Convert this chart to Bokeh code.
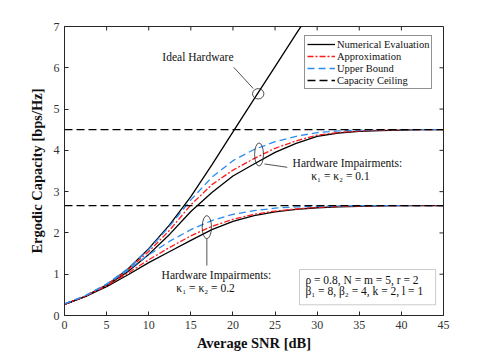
import math
from bokeh.plotting import figure
from bokeh.models import Legend, LegendItem, Label, BoxAnnotation, FixedTicker
from bokeh.embed import file_html
from bokeh.resources import INLINE

# ---------------- data ----------------
snr = [0, 2.5, 5, 7.5, 10, 12.5, 15, 17.5, 20, 22.5, 25, 27.5, 30, 32.5, 35, 37.5, 40, 42.5, 45]

ideal_snr = [0, 2.5, 5, 7.5, 10, 12.5, 15, 17.5, 20, 22.5, 25, 27.5, 30]
ideal_num = [0.27, 0.47, 0.74, 1.12, 1.62, 2.2, 2.88, 3.65, 4.45, 5.24, 6.03, 6.82, 7.6]

k01_num = [0.27, 0.46, 0.72, 1.06, 1.48, 1.97, 2.52, 2.98, 3.38, 3.67, 3.95, 4.17, 4.34, 4.42, 4.46, 4.48, 4.49, 4.5, 4.5]
k01_apx = [0.27, 0.47, 0.74, 1.1, 1.55, 2.07, 2.68, 3.17, 3.52, 3.8, 4.05, 4.23, 4.37, 4.43, 4.47, 4.49, 4.5, 4.5, 4.5]
k01_ub = [0.28, 0.48, 0.76, 1.13, 1.6, 2.17, 2.8, 3.35, 3.75, 4.02, 4.21, 4.34, 4.43, 4.47, 4.49, 4.5, 4.5, 4.5, 4.5]

k02_num = [0.27, 0.46, 0.7, 0.98, 1.28, 1.55, 1.82, 2.08, 2.28, 2.42, 2.51, 2.57, 2.61, 2.63, 2.645, 2.655, 2.66, 2.66, 2.66]
k02_apx = [0.27, 0.47, 0.72, 1.02, 1.35, 1.65, 1.93, 2.16, 2.33, 2.45, 2.53, 2.58, 2.62, 2.64, 2.65, 2.66, 2.66, 2.66, 2.66]
k02_ub = [0.28, 0.48, 0.76, 1.1, 1.47, 1.8, 2.08, 2.3, 2.45, 2.54, 2.6, 2.63, 2.645, 2.655, 2.66, 2.66, 2.66, 2.66, 2.66]

ceiling_k01 = 4.5
ceiling_k02 = 2.66

x_ticks = [0, 5, 10, 15, 20, 25, 30, 35, 40, 45]
y_ticks = [0, 1, 2, 3, 4, 5, 6, 7]

legend_labels = ["Numerical Evaluation", "Approximation", "Upper Bound", "Capacity Ceiling"]

# ---------------- styling ----------------
SERIF = "Liberation Serif"
AX = "#262626"
RED = "#ff1a1a"
BLUE = "#2b8cf0"
LW = 1.3

p = figure(width=491, height=354, x_range=(0, 45), y_range=(0, 7),
           output_backend="svg", toolbar_location=None,
           min_border_left=64, min_border_right=48, min_border_top=26, min_border_bottom=39)
p.grid.visible = False
p.outline_line_color = AX
p.outline_line_width = 1
p.background_fill_color = "white"
p.border_fill_color = "white"

for ax, ticks in ((p.xaxis[0], x_ticks), (p.yaxis[0], y_ticks)):
    ax.ticker = FixedTicker(ticks=ticks)
    ax.axis_line_color = AX
    ax.major_tick_line_color = AX
    ax.major_tick_in = 4
    ax.major_tick_out = 0
    ax.minor_tick_line_color = None
    ax.major_label_text_font = SERIF
    ax.major_label_text_color = "#333333"
    ax.major_label_text_font_size = "12px"
    ax.major_label_standoff = 5
    ax.axis_label_text_font = SERIF
    ax.axis_label_text_font_style = "bold"
    ax.axis_label_text_font_size = "14.5px"
    ax.axis_label_text_color = "#111111"
p.xaxis.axis_label = "Average SNR [dB]"
p.yaxis.axis_label = "Ergodic Capacity [bps/Hz]"
p.xaxis.axis_label_standoff = 3
p.yaxis.axis_label_standoff = 6

# MATLAB-style inward ticks on the top and right edges of the box
p.ray(x=x_ticks, y=[y_ticks[-1]] * len(x_ticks), length=4, length_units="screen",
      angle=-math.pi / 2, line_color=AX, line_width=1)
p.ray(x=[x_ticks[-1]] * len(y_ticks), y=y_ticks, length=4, length_units="screen",
      angle=math.pi, line_color=AX, line_width=1)

# ---------------- curves ----------------
ceil_x = [snr[0], snr[-1]]
r_ideal = p.line(ideal_snr, ideal_num, line_color="black", line_width=LW)

r_num1 = p.line(snr, k01_num, line_color="black", line_width=LW)
r_apx1 = p.line(snr, k01_apx, line_color=RED, line_width=LW, line_dash="6 2 2 2")
r_ub1 = p.line(snr, k01_ub, line_color=BLUE, line_width=LW, line_dash="7 4")

r_num2 = p.line(snr, k02_num, line_color="black", line_width=LW)
r_apx2 = p.line(snr, k02_apx, line_color=RED, line_width=LW, line_dash="6 2 2 2")
r_ub2 = p.line(snr, k02_ub, line_color=BLUE, line_width=LW, line_dash="7 4")

r_c1 = p.line(ceil_x, [ceiling_k01, ceiling_k01], line_color="black", line_width=LW, line_dash="8 4")
r_c2 = p.line(ceil_x, [ceiling_k02, ceiling_k02], line_color="black", line_width=LW, line_dash="8 4")

# ---------------- annotations ----------------
p.ellipse(x=[23.0, 23.1, 16.9], y=[5.37, 3.9, 2.14], width=[1.35, 1.05, 1.1], height=[0.25, 0.56, 0.56],
          fill_alpha=0, line_color=AX, line_width=0.8)
p.segment(x0=[20.1, 23.75, 16.9], y0=[6.01, 3.67, 1.86], x1=[22.4, 26.45, 16.9], y1=[5.5, 3.59, 1.21],
          line_color=AX, line_width=0.8)


def lab(x, y, text, align="left", size="11.5px"):
    p.add_layout(Label(x=x, y=y, text=text, text_font=SERIF, text_font_size=size,
                       text_color="#111111", text_align=align, text_baseline="middle"))


lab(20.07, 6.27, "Ideal Hardware", align="right")
lab(27.08, 3.70, "Hardware Impairments:")
lab(29.3, 3.39, "κ₁ = κ₂ = 0.1")
lab(18.03, 0.99, "Hardware Impairments:", align="center")
lab(16.75, 0.67, "κ₁ = κ₂ = 0.2", align="center")

p.add_layout(BoxAnnotation(left=27.9, right=44.06, bottom=0.26, top=1.114,
                           fill_color="white", fill_alpha=1, line_color=AX, line_width=0.8))
lab(28.6, 0.864, "ρ = 0.8, N = m = 5, r = 2")
lab(28.6, 0.598, "β₁ = 8, β₂ = 4, k = 2, l = 1")

legend = Legend(items=[
    LegendItem(label=legend_labels[0], renderers=[r_num2]),
    LegendItem(label=legend_labels[1], renderers=[r_apx2]),
    LegendItem(label=legend_labels[2], renderers=[r_ub2]),
    LegendItem(label=legend_labels[3], renderers=[r_c2]),
], location=(240, 226))
legend.label_text_font = SERIF
legend.label_text_font_size = "10.5px"
legend.label_text_color = "#111111"
legend.glyph_width = 28
legend.glyph_height = 12
legend.label_height = 12
legend.label_standoff = 2
legend.spacing = 0
legend.padding = 2
legend.margin = 0
legend.border_line_color = AX
legend.border_line_width = 0.8
legend.background_fill_alpha = 1
p.add_layout(legend)

open("out.html", "w").write(file_html(p, INLINE))
